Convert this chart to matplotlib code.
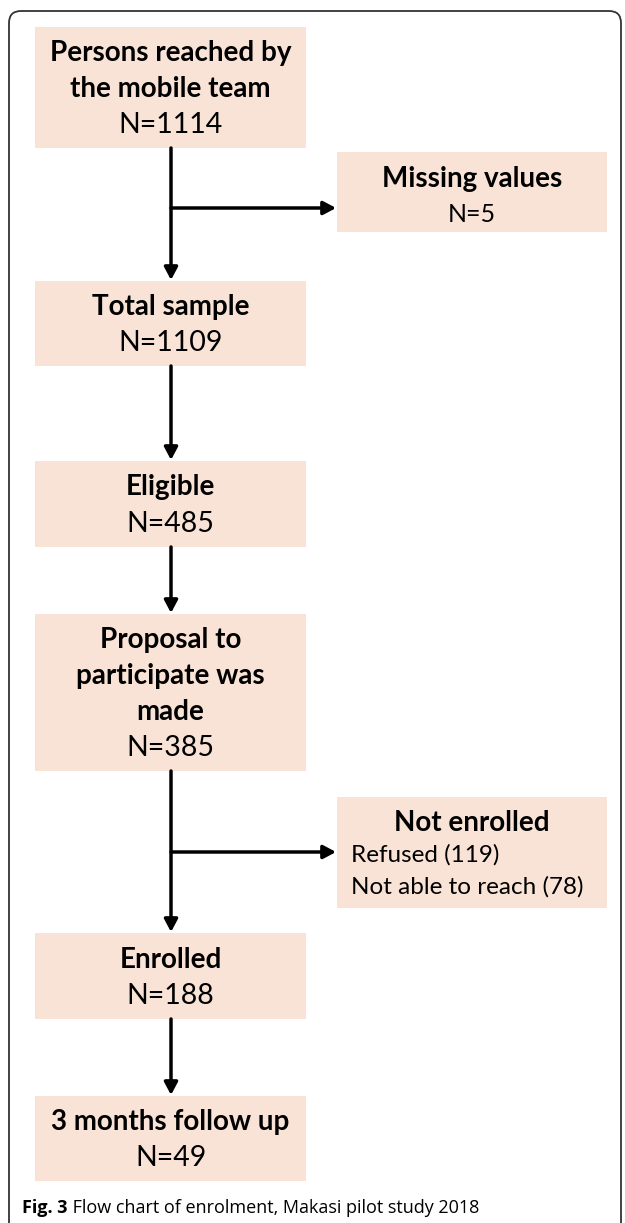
import matplotlib.pyplot as plt
from matplotlib.patches import Rectangle, FancyBboxPatch

# flow chart data
step_titles = ['Persons reached by\nthe mobile team', 'Total sample', 'Eligible',
               'Proposal to\nparticipate was\nmade', 'Enrolled', '3 months follow up']
step_n = [1114, 1109, 485, 385, 188, 49]
missing_title = 'Missing values'
missing_n = 5
notenr_title = 'Not enrolled'
notenr_reasons = ['Refused', 'Not able to reach']
notenr_counts = [119, 78]
caption_bold = 'Fig. 3'
caption_rest = ' Flow chart of enrolment, Makasi pilot study 2018'

BOX = '#f9e3d6'
FONT = 'Lato'

fig = plt.figure(figsize=(6.25, 12.23), dpi=100)
ax = fig.add_axes([0, 0, 1, 1])
ax.set_xlim(0, 625)
ax.set_ylim(1223, 0)
ax.axis('off')

# outer frame (open at bottom)
frame = FancyBboxPatch((9, 11), 612, 1260, boxstyle='round,pad=0,rounding_size=12',
                       fc='none', ec='#333333', lw=1.3)
ax.add_patch(frame)

# main column boxes: (top, bottom) in pixels
main_y = [(27, 148), (281, 366), (461, 547), (614, 771), (933, 1019), (1096, 1181)]
x0, x1 = 35, 306
xc = 171
line_h = 36

for (t, b), title, n in zip(main_y, step_titles, step_n):
    ax.add_patch(Rectangle((x0, t), x1 - x0, b - t, fc=BOX, ec='none'))
    lines = title.split('\n')
    nl = len(lines) + 1
    ytop = (t + b) / 2 + 1.5 - (nl - 1) * line_h / 2
    for i, ln in enumerate(lines):
        ax.text((x0 + x1) / 2, ytop + i * line_h, ln, ha='center', va='center',
                fontsize=20, fontweight='bold', family=FONT)
    ax.text((x0 + x1) / 2, ytop + (nl - 1) * line_h, 'N=' + str(n), ha='center',
            va='center', fontsize=20.5, family=FONT)

def arrow(xa, ya, xb, yb):
    ax.annotate('', xy=(xb, yb), xytext=(xa, ya),
                arrowprops=dict(arrowstyle='-|>,head_length=0.75,head_width=0.4',
                                lw=2.5, color='black', shrinkA=0, shrinkB=0))

for k in range(len(main_y) - 1):
    arrow(xc, main_y[k][1], xc, main_y[k + 1][0] - 1)

# side boxes
sx0, sx1 = 337, 607
sxc = (sx0 + sx1) / 2
ax.add_patch(Rectangle((sx0, 152), sx1 - sx0, 80, fc=BOX, ec='none'))
ax.text(sxc, 179, missing_title, ha='center', va='center', fontsize=20,
        fontweight='bold', family=FONT)
ax.text(sxc, 215, 'N=' + str(missing_n), ha='center', va='center', fontsize=18, family=FONT)
arrow(xc, 208, sx0 - 1, 208)

ax.add_patch(Rectangle((sx0, 797), sx1 - sx0, 111, fc=BOX, ec='none'))
ax.text(sxc, 823, notenr_title, ha='center', va='center', fontsize=20,
        fontweight='bold', family=FONT)
for i, (r, c) in enumerate(zip(notenr_reasons, notenr_counts)):
    ax.text(351, 855 + i * 32, r + ' (' + str(c) + ')', ha='left', va='center',
            fontsize=17.5, family=FONT)
arrow(xc, 852, sx0 - 1, 852)

# caption
t1 = ax.text(22, 1208, caption_bold, ha='left', va='center', fontsize=13,
             fontweight='bold', family='Open Sans')
fig.canvas.draw()
bb = t1.get_window_extent()
ax.text(22 + bb.width, 1208, caption_rest, ha='left', va='center', fontsize=13,
        family='Open Sans')

fig.savefig('out.png', dpi=100)
